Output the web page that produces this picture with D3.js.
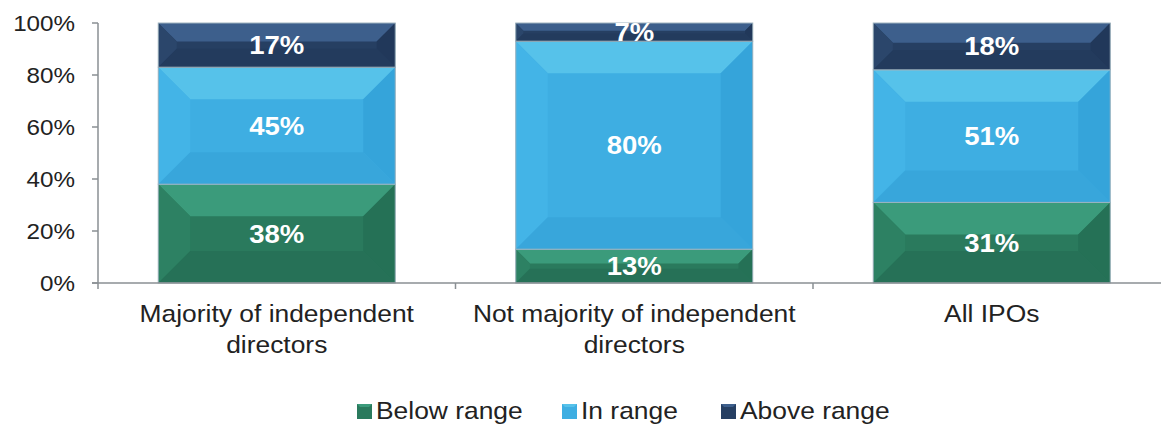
<!DOCTYPE html>
<meta charset="utf-8">
<style>
    body { margin: 0; background: #fff; }
    text { font-family: "Liberation Sans", Arial, sans-serif; }
    .tick-label { font-size: 22px; fill: #222; }
    .cat-label { font-size: 24px; fill: #222; }
    .bar-label { font-size: 25px; font-weight: bold; fill: #fff; }
    .legend-label { font-size: 24px; fill: #222; }
</style>
<body>
<script src="https://d3js.org/d3.v7.min.js"></script>
<script>
    // data
    var categories = [["Majority of independent", "directors"], ["Not majority of independent", "directors"], ["All IPOs"]];
    var seriesNames = ["Below range", "In range", "Above range"];
    var belowRange = [38, 13, 31];
    var inRange = [45, 80, 51];
    var aboveRange = [17, 7, 18];
    var yTicks = [0, 20, 40, 60, 80, 100];

    // colours per series: base, top, left, right, bottom facets
    var palette = [
        {base: "#2a7a5d", top: "#3b9b7b", left: "#2d8163", right: "#257156", bottom: "#267157"},
        {base: "#3eaee2", top: "#56c2ea", left: "#43b4e7", right: "#35a4da", bottom: "#38a6db"},
        {base: "#263f62", top: "#3d5f8c", left: "#2b466b", right: "#21385a", bottom: "#233b5d"}
    ];

    var W = 1161, H = 426;
    var stretch = 1.1; // reference text is a little wide

    var svg = d3.select("body").append("svg")
        .attr("width", W)
        .attr("height", H);

    var x = d3.scaleBand()
        .domain(d3.range(categories.length))
        .range([98, 1170.5])
        .paddingInner(0.337)
        .paddingOuter(0.1685);

    var y = d3.scaleLinear().domain([0, 100]).range([283, 23]);

    // stack the series
    var rows = categories.map(function(c, i) {
        return {i: i, s0: belowRange[i], s1: inRange[i], s2: aboveRange[i]};
    });
    var stack = d3.stack().keys(["s0", "s1", "s2"])(rows);

    function stretchedText(g, cls, tx, ty, str, anchor) {
        g.append("text")
            .attr("class", cls)
            .attr("transform", "translate(" + tx + "," + ty + ") scale(" + stretch + ",1)")
            .style("text-anchor", anchor || "middle")
            .text(str);
    }

    // bars with bevelled facets
    stack.forEach(function(layer, k) {
        var col = palette[k];
        layer.forEach(function(d, i) {
            var x0 = x(i), x1 = x(i) + x.bandwidth();
            var yt = y(d[1]), yb = y(d[0]);
            var h = yb - yt;
            var b = Math.min(h * 0.42, 32);
            var g = svg.append("g");
            g.append("rect")
                .attr("x", x0).attr("y", yt)
                .attr("width", x1 - x0).attr("height", h)
                .attr("fill", col.base);
            var facets = [
                [[x0, yt], [x1, yt], [x1 - b, yt + b], [x0 + b, yt + b], col.top],
                [[x0, yt], [x0 + b, yt + b], [x0 + b, yb - b], [x0, yb], col.left],
                [[x1, yt], [x1, yb], [x1 - b, yb - b], [x1 - b, yt + b], col.right],
                [[x0, yb], [x0 + b, yb - b], [x1 - b, yb - b], [x1, yb], col.bottom]
            ];
            facets.forEach(function(f) {
                g.append("polygon")
                    .attr("points", f.slice(0, 4).map(function(p) { return p.join(","); }).join(" "))
                    .attr("fill", f[4]);
            });
            g.append("rect")
                .attr("x", x0).attr("y", yt)
                .attr("width", x1 - x0).attr("height", h)
                .attr("fill", "none")
                .attr("stroke", "#9fb4bf")
                .attr("stroke-width", 1);
            var v = d[1] - d[0];
            stretchedText(svg, "bar-label", (x0 + x1) / 2, (yt + yb) / 2 + 9, v + "%");
        });
    });

    // y axis
    var axisColor = "#8a8f93";
    svg.append("line")
        .attr("x1", 98).attr("x2", 98)
        .attr("y1", y(100)).attr("y2", y(0))
        .attr("stroke", axisColor).attr("stroke-width", 1.5);
    yTicks.forEach(function(t) {
        svg.append("line")
            .attr("x1", 92).attr("x2", 98)
            .attr("y1", y(t)).attr("y2", y(t))
            .attr("stroke", axisColor).attr("stroke-width", 1.5);
        stretchedText(svg, "tick-label", 75, y(t) + 8, t + "%", "end");
    });

    // x axis
    svg.append("line")
        .attr("x1", 92).attr("x2", W)
        .attr("y1", y(0)).attr("y2", y(0))
        .attr("stroke", axisColor).attr("stroke-width", 1.5);
    d3.range(categories.length + 1).forEach(function(i) {
        var bx = 98 + i * x.step();
        svg.append("line")
            .attr("x1", bx).attr("x2", bx)
            .attr("y1", y(0)).attr("y2", y(0) + 6)
            .attr("stroke", axisColor).attr("stroke-width", 1.5);
    });
    categories.forEach(function(lines, i) {
        lines.forEach(function(l, j) {
            stretchedText(svg, "cat-label", x(i) + x.bandwidth() / 2, 322 + j * 31, l);
        });
    });

    // legend
    var legendX = [357, 562, 721];
    seriesNames.forEach(function(n, k) {
        var col = palette[k];
        var lx = legendX[k], ly = 404, s = 15, b = 3;
        svg.append("rect").attr("x", lx).attr("y", ly).attr("width", s).attr("height", s).attr("fill", col.base);
        svg.append("polygon")
            .attr("points", [[lx, ly], [lx + s, ly], [lx + s - b, ly + b], [lx + b, ly + b]].map(function(p) { return p.join(","); }).join(" "))
            .attr("fill", col.top);
        stretchedText(svg, "legend-label", lx + s + 4, 419, n, "start");
    });
</script>
</body>
